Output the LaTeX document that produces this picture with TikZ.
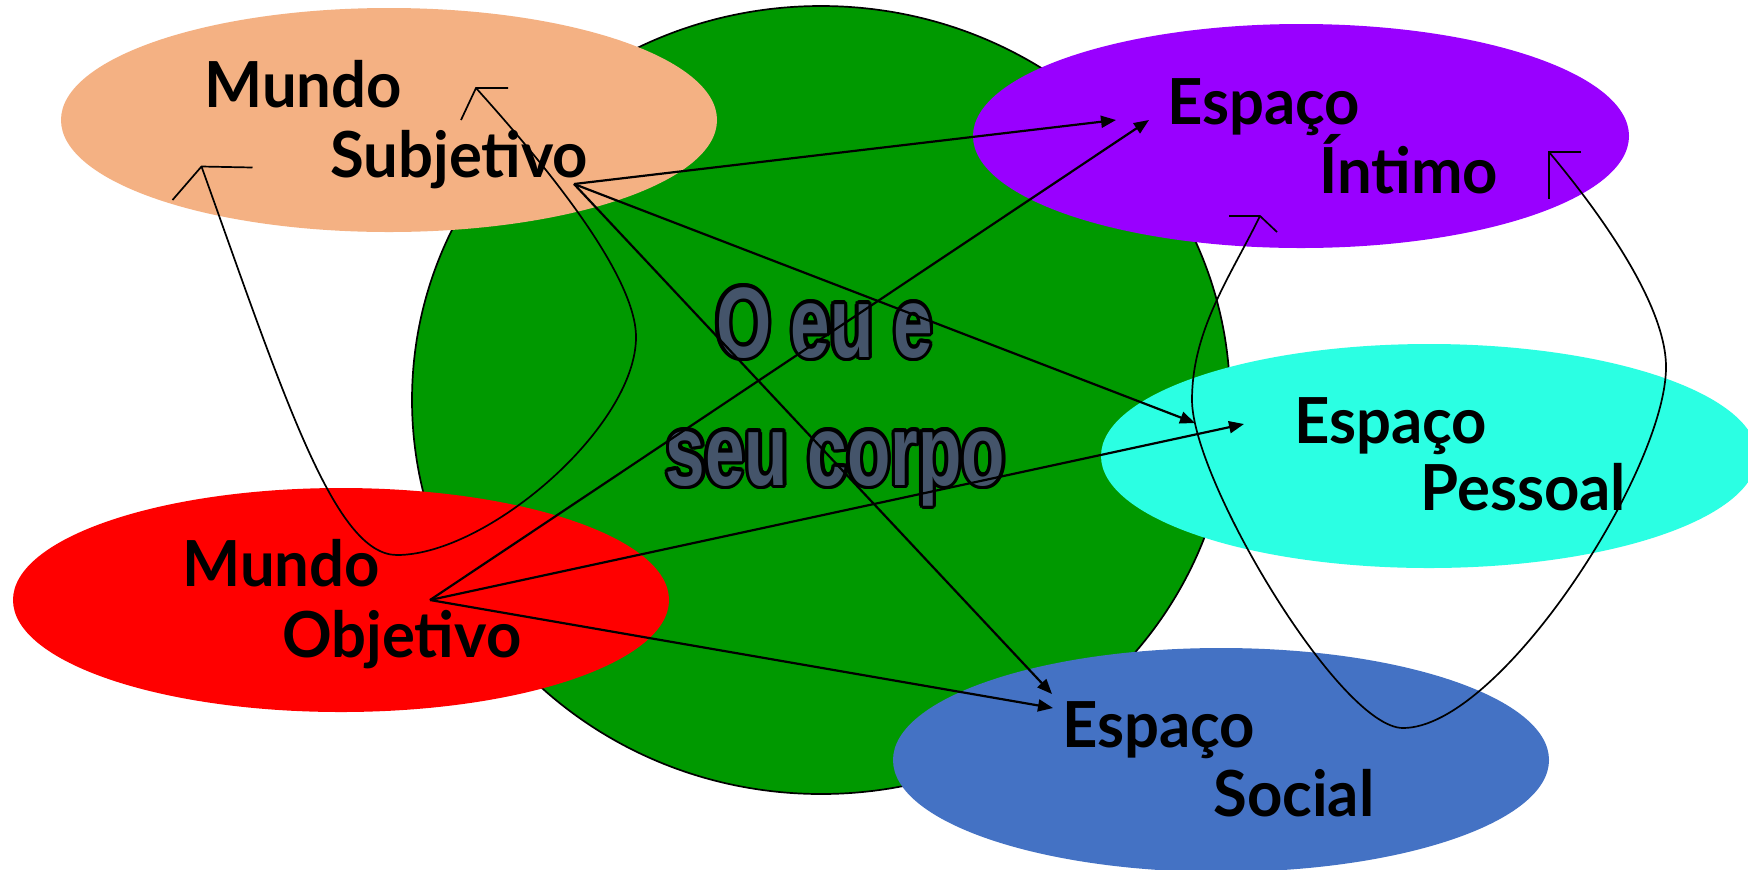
\documentclass[tikz,border=0pt]{standalone}
\usepackage{fontspec}
\usepackage{contour}
\usetikzlibrary{arrows.meta,shapes.geometric}
\newfontfamily\comicfont{Lato}[FakeStretch=0.97]
\newfontfamily\titlefont{Liberation Sans}[FakeStretch=0.71]
\definecolor{peach}{HTML}{F4B183}
\definecolor{violetfill}{HTML}{9900FF}
\definecolor{cyanfill}{HTML}{2BFFE3}
\definecolor{redfill}{HTML}{FF0000}
\definecolor{bluefill}{HTML}{4472C4}
\definecolor{dgreen}{HTML}{009900}
\definecolor{slate}{HTML}{44546A}
\contourlength{1.7pt}
\begin{document}
\begin{tikzpicture}[x=0.5pt,y=-0.5pt,
  blob/.style={ellipse, inner sep=0pt, outer sep=0pt, minimum width=328pt, minimum height=112pt},
  lbl/.style={font=\comicfont\bfseries\fontsize{31.75}{36}\selectfont, anchor=base west, inner sep=0pt},
  ttl/.style={font=\titlefont\bfseries\fontsize{50}{56}\selectfont, anchor=base, inner sep=0pt, text=slate},
  link/.style={line width=1.1pt, -{Triangle[length=7.5pt,width=6pt]}},
  loopline/.style={line width=0.85pt, line join=miter},
  ]
\fill[white] (0,0) rectangle (1748,869);
\useasboundingbox (0,0) rectangle (1748,869);
\begin{scope}
\clip (0,0) rectangle (1748,869);
% shapes
\node[blob, minimum width=409pt, minimum height=394pt, fill=dgreen, draw=black, line width=0.85pt] (body) at (821,400) {};
\node[blob, fill=peach] (subj) at (389,120) {};
\node[blob, fill=violetfill] (intimo) at (1301,136) {};
\node[blob, fill=cyanfill] (pessoal) at (1429,456) {};
\node[blob, fill=redfill] (obj) at (341,600) {};
\node[blob, fill=bluefill] (social) at (1221,760) {};
% labels
\node[lbl] (t1) at (204,107) {Mundo};
\node[lbl] (t2) at (330,177) {Subjetivo};
\node[lbl] (t3) at (1167,124) {Espaço};
\node[lbl] (t4) at (1319,193) {Íntimo};
\node[lbl] (t5) at (1294,443) {Espaço};
\node[lbl] (t6) at (1420,510) {Pessoal};
\node[lbl] (t7) at (182,586) {Mundo};
\node[lbl] (t8) at (282,657) {Objetivo};
\node[lbl] (t9) at (1062,747) {Espaço};
\node[lbl] (t10) at (1213,816) {Social};
% title
\node[ttl] (title1) at (824.5,357) {\contour{black}{O eu e}};
\node[ttl] (title2) at (835.5,485) {\contour{black}{seu corpo}};
% connector ends
\coordinate (S) at (574,184);
\coordinate (O) at (430,600);
\coordinate (SI) at (1116,120);
\coordinate (OI) at (1149,120);
\coordinate (SP) at (1195,423);
\coordinate (OP) at (1244,424);
\coordinate (SS) at (1052,694);
\coordinate (OS) at (1053,708);
\draw[link] (S) -- (SI);
\draw[link] (S) -- (SP);
\draw[link] (S) -- (SS);
\draw[link] (O) -- (OI);
\draw[link] (O) -- (OP);
\draw[link] (O) -- (OS);
% loops
\coordinate (A1) at (201.5,166.5);
\coordinate (A2) at (476,88);
\coordinate (B1) at (1260,216);
\coordinate (B2) at (1549,152);
\draw[loopline] (A1) .. controls (285,400) and (335,555) .. (397,555)
  .. controls (487,555) and (636,427) .. (636,337)
  .. controls (636,270) and (529,147) .. (A2);
\draw[loopline] (252.5,167.5) -- (A1) -- (172.5,200);
\draw[loopline] (508,88) -- (A2) -- (461,120);
\draw[loopline] (B1) .. controls (1230,277) and (1192,330) .. (1192,400)
  .. controls (1192,480) and (1340,728) .. (1403,728)
  .. controls (1500,728) and (1666,470) .. (1666,367)
  .. controls (1666,300) and (1590,201) .. (B2);
\draw[loopline] (1229,216) -- (B1) -- (1277,232);
\draw[loopline] (1581,152) -- (B2) -- (1549,199);
\end{scope}
\end{tikzpicture}
\end{document}
